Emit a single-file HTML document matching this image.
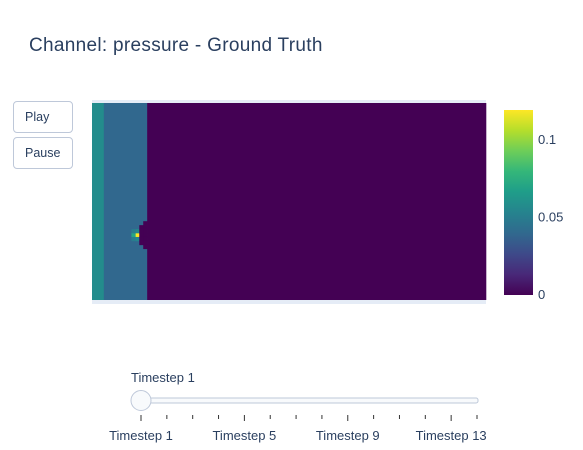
<!DOCTYPE html>
<html><head><meta charset="utf-8"><style>
body{margin:0;background:#fff;font-family:"Liberation Sans",Arial,sans-serif;}
#root{position:relative;width:583px;height:450px;overflow:hidden;}
.btn{position:absolute;left:13px;width:60px;height:32px;border:1px solid #bec8d9;border-radius:4px;background:#fff;color:#2a3f5f;font-size:12.5px;line-height:31px;box-sizing:border-box;padding-left:11px;}
</style></head><body>
<div id="root">
<div class="btn" style="top:101px">Play</div>
<div class="btn" style="top:137px">Pause</div>
<svg id="svg" width="583" height="450" style="position:absolute;left:0;top:0;pointer-events:none">
<defs><linearGradient id="vir" x1="0" y1="1" x2="0" y2="0">
<stop offset="0" stop-color="#440154"/><stop offset="0.11" stop-color="#482878"/><stop offset="0.22" stop-color="#3e4989"/><stop offset="0.33" stop-color="#31688e"/><stop offset="0.44" stop-color="#26828e"/><stop offset="0.56" stop-color="#1f9e89"/><stop offset="0.67" stop-color="#35b779"/><stop offset="0.78" stop-color="#6ece58"/><stop offset="0.89" stop-color="#b5de2b"/><stop offset="1" stop-color="#fde725"/></linearGradient></defs>
<text x="29" y="51" font-size="19" letter-spacing="0.3" fill="#2a3f5f">Channel: pressure - Ground Truth</text>
<rect x="92" y="100" width="394" height="204" fill="#e5ecf6"/>
<g id="heat"></g>
<rect x="504" y="110" width="29" height="185" fill="url(#vir)"/>
<g id="cbt" font-size="13" fill="#2a3f5f"></g>
<g id="slider"></g>
</svg>
</div>
<script>
const bandValues=[0.058,0.04,0];
const bandWidths=[3,11,86];
const spotCells=[[11,33,0.12],[10,33,0.07],[11,32,0.055],[11,34,0.055],[10,32,0.05],[10,34,0.05],[12,31,0],[12,32,0],[12,33,0],[12,34,0],[12,35,0],[13,30,0],[13,31,0],[13,32,0],[13,33,0],[13,34,0],[13,35,0],[13,36,0]];
const cbTicks=[0,0.05,0.1];
const cbLabels=["0","0.05","0.1"];
const steps=["Timestep 1","Timestep 2","Timestep 3","Timestep 4","Timestep 5","Timestep 6","Timestep 7","Timestep 8","Timestep 9","Timestep 10","Timestep 11","Timestep 12","Timestep 13","Timestep 14"];
const NS="http://www.w3.org/2000/svg";
const NX=100,NY=50,X0=92,X1=486,Y0=103,Y1=300,VMAX=0.1195;
const stops=["#440154","#482878","#3e4989","#31688e","#26828e","#1f9e89","#35b779","#6ece58","#b5de2b","#fde725"];
function hex(h){return [1,3,5].map(i=>parseInt(h.substr(i,2),16));}
function vir(v){let t=Math.max(0,Math.min(1,v/VMAX))*(stops.length-1);let i=Math.min(stops.length-2,Math.floor(t)),f=t-i;const a=hex(stops[i]),b=hex(stops[i+1]);return "rgb("+a.map((c,k)=>Math.round(c+(b[k]-c)*f)).join(",")+")";}
const xs=c=>X0+(X1-X0)*c/NX, ys=r=>Y0+(Y1-Y0)*r/NY;
const cbY=v=>295-(v/VMAX)*185;
const heat=document.getElementById('heat');
let col=0;
bandValues.forEach((v,i)=>{const r=document.createElementNS(NS,'rect');
r.setAttribute('x',xs(col));r.setAttribute('y',Y0);r.setAttribute('width',xs(col+bandWidths[i])-xs(col)+0.3);r.setAttribute('height',Y1-Y0);r.setAttribute('fill',vir(v));


heat.appendChild(r);col+=bandWidths[i];});
spotCells.forEach(s=>{const r=document.createElementNS(NS,'rect');
r.setAttribute('x',xs(s[0]));r.setAttribute('y',ys(s[1]));r.setAttribute('width',xs(1)-xs(0)+0.3);r.setAttribute('height',ys(1)-ys(0)+0.3);r.setAttribute('fill',vir(s[2]));


heat.appendChild(r);});
const cbt=document.getElementById('cbt');
cbTicks.forEach((v,i)=>{const t=document.createElementNS(NS,'text');t.setAttribute('x',538);t.setAttribute('y',cbY(v)+4);t.textContent=cbLabels[i];


cbt.appendChild(t);});
const sl=document.getElementById('slider');
const SX0=141,SX1=477,sx=i=>SX0+(SX1-SX0)*i/(steps.length-1);
let h='<text x="131" y="382" font-size="13" fill="#2a3f5f">'+steps[0]+'</text>';
h+='<rect x="134" y="398" width="344" height="5" rx="2" fill="#f8fafc" stroke="#bec8d9"/>';
steps.forEach((s,i)=>{const maj=i%4==0;h+='<line x1="'+sx(i)+'" x2="'+sx(i)+'" y1="415" y2="'+(maj?421:419)+'" stroke="#333"/>';
if(maj)h+='<text x="'+sx(i)+'" y="440" text-anchor="middle" font-size="13" fill="#2a3f5f">'+s+'</text>';});
h+='<circle cx="141" cy="400.5" r="10" fill="#f8fafc" stroke="#bec8d9"/>';
sl.innerHTML=h;
</script>
</body></html>
